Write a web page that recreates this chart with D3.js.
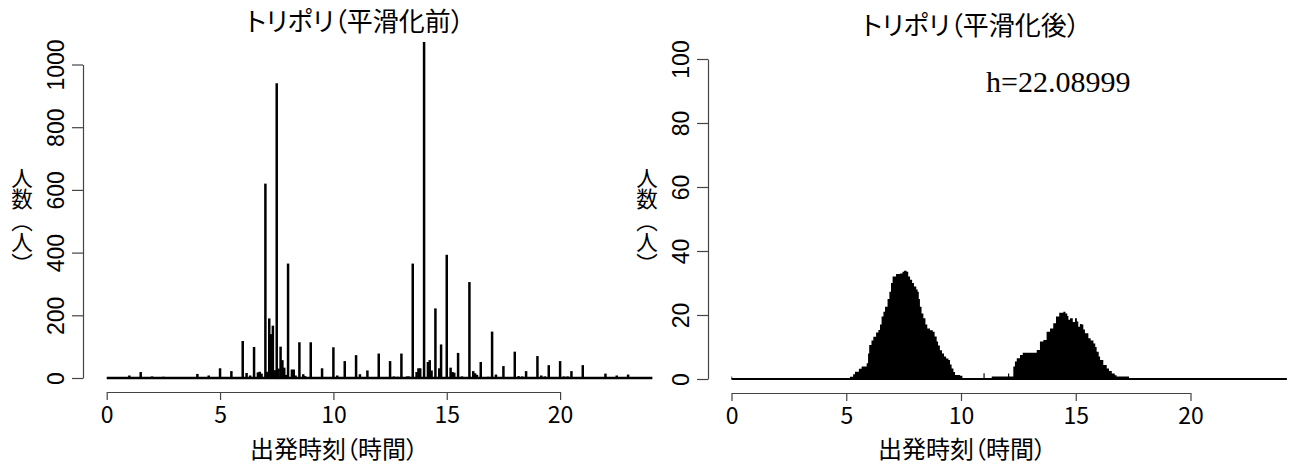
<!DOCTYPE html>
<html>
<head>
<meta charset="utf-8">
<script src="https://cdn.jsdelivr.net/npm/d3@7"></script>
<style>
  body { margin: 0; background: #fff; }
  svg { display: block; }
</style>
</head>
<body>
<div id="chart"></div>
<script>
// raw counts per departure time (hours, people) - before smoothing
const rawTimes = [1.0, 1.5, 2.0, 2.5, 3.0, 4.0, 4.5, 5.0, 5.5, 6.0, 6.17, 6.33, 6.5, 6.67, 6.75, 6.83,
  7.0, 7.08, 7.17, 7.25, 7.33, 7.42, 7.5, 7.58, 7.67, 7.75, 7.83, 7.92, 8.0, 8.17, 8.25, 8.33, 8.5,
  8.67, 8.75, 9.0, 9.17, 9.5, 10.0, 10.17, 10.5, 10.67, 11.0, 11.17, 11.5, 11.67, 12.0, 12.17, 12.5,
  12.67, 12.83, 13.0, 13.25, 13.33, 13.5, 13.67, 13.75, 13.83, 14.0, 14.17, 14.25, 14.33, 14.5, 14.67,
  14.75, 15.0, 15.17, 15.25, 15.33, 15.5, 15.67, 15.75, 16.0, 16.17, 16.25, 16.33, 16.5, 16.83, 17.0,
  17.17, 17.33, 17.5, 18.0, 18.17, 18.33, 18.5, 18.83, 19.0, 19.17, 19.33, 19.5, 19.67, 20.0, 20.17,
  20.33, 20.5, 21.0, 21.5, 22.0, 22.5, 23.0];
const rawCounts = [8, 19, 5, 4, 3, 13, 8, 31, 22, 118, 16, 8, 99, 18, 20, 14,
  620, 20, 190, 140, 167, 25, 940, 30, 100, 57, 33, 10, 365, 27, 27, 8, 114,
  12, 6, 114, 3, 31, 98, 8, 54, 3, 73, 12, 24, 3, 78, 3, 54,
  5, 4, 78, 5, 5, 365, 19, 31, 31, 1072, 51, 57, 24, 222, 31,
  107, 393, 33, 19, 17, 80, 5, 3, 306, 22, 15, 10, 51, 4, 148,
  11, 3, 38, 84, 6, 5, 22, 3, 70, 8, 5, 41, 3, 54, 5,
  5, 22, 41, 3, 14, 8, 11];
const rawEnd = 24.07;

// smoothed series (kernel, h = 22.08999)
const smoothTimes = [0, 0.03, 5.1, 5.16, 5.3, 5.38, 5.55, 5.67, 5.89, 5.95, 6.0, 6.1, 6.18, 6.3, 6.4, 6.47,
  6.54, 6.62, 6.69, 6.8, 6.88, 6.95, 7.02, 7.17, 7.34, 7.45, 7.52, 7.63, 7.7, 7.78, 7.87, 7.95, 8.05,
  8.11, 8.16, 8.21, 8.28, 8.36, 8.45, 8.53, 8.65, 8.77, 8.85, 8.94, 9.0, 9.08, 9.17, 9.26, 9.35, 9.45,
  9.52, 9.59, 9.67, 9.74, 9.96, 10.06, 10.95, 10.98, 11.03, 11.3, 11.34, 12.03, 12.05, 12.1, 12.2,
  12.28, 12.35, 12.43, 12.57, 12.69, 13.15, 13.3, 13.44, 13.59, 13.73, 13.88, 14.02, 14.14, 14.28,
  14.46, 14.55, 14.63, 14.68, 14.75, 14.82, 14.87, 14.97, 15.05, 15.11, 15.18, 15.26, 15.33, 15.4,
  15.55, 15.65, 15.77, 15.85, 15.91, 16.0, 16.06, 16.2, 16.35, 16.45, 16.57, 16.7, 16.78, 17.29,
  17.32, 24.2];
const smoothValues = [0.8, 0, 0, 0.7, 1.5, 2.3, 3.2, 3.9, 4.9, 8, 10.6, 12, 13.2, 14.5, 15.3, 17,
  19.5, 21, 22.6, 25, 27.3, 30, 32, 32.8, 33, 33.5, 33.8, 33.5, 32, 31, 30, 28.9, 28,
  27.3, 25, 22.6, 20.5, 19, 17, 15.8, 15.2, 14.8, 13.3, 11.7, 10.5, 9, 8, 7, 6.4, 5.9,
  4.5, 3.3, 2.2, 1.25, 1.0, 0, 0, 1.8, 0, 0, 0.8, 0.8, 1.7, 0.8, 0.8,
  3.9, 5.5, 6.5, 7.5, 8.2, 8.2, 9.1, 11.7, 12.2, 14.8, 15.8, 17.4, 19.5, 20.7,
  21, 20.5, 19.7, 18.5, 19, 19, 17.8, 19, 18, 16.3, 17.2, 17, 15.5, 14.3,
  12.7, 12, 11.1, 10, 8.5, 7, 5.9, 4.4, 3.3, 2.5, 1.7, 1.2, 0.8, 0.8,
  0, 0];

const xTicks = [0, 5, 10, 15, 20];
const leftYTicks = [0, 200, 400, 600, 800, 1000];
const rightYTicks = [0, 20, 40, 60, 80, 100];
const yLabel = "人数（人）";

const W = 1297, H = 468;
const svg = d3.select("#chart").append("svg")
    .attr("width", W)
    .attr("height", H);

const jpFont = "'Noto Sans CJK JP', 'Noto Sans', sans-serif";
const numFont = "'Liberation Sans', Arial, sans-serif";

function drawPanel(opts) {
    const x = d3.scaleLinear().domain([0, 20]).range(opts.xRange);
    const y = d3.scaleLinear().domain(opts.yDomain).range(opts.yRange);

    // y axis, labels rotated like R's default
    const yAxis = svg.append("g")
        .attr("transform", "translate(" + opts.yAxisX + ",0)")
        .call(d3.axisLeft(y).tickValues(opts.yTicks).tickFormat(d3.format("d"))
            .tickSize(11).tickSizeOuter(0));
    yAxis.selectAll("text")
        .attr("transform", "rotate(-90)")
        .attr("x", 0)
        .attr("y", -19)
        .attr("dy", 0)
        .attr("text-anchor", "middle")
        .style("font-family", numFont)
        .style("font-size", "23px")
        .attr("fill", "#000");

    // x axis
    const xAxis = svg.append("g")
        .attr("transform", "translate(0," + opts.xAxisY + ")")
        .call(d3.axisBottom(x).tickValues(xTicks).tickSize(8).tickSizeOuter(0));
    xAxis.selectAll("text")
        .attr("y", 31)
        .attr("dy", 0)
        .style("font-family", jpFont)
        .style("font-size", "23px")
        .attr("fill", "#000");

    svg.selectAll(".domain, .tick line")
        .attr("stroke", "#444")
        .attr("stroke-width", 1.2);

    // titles and labels
    svg.append("text")
        .attr("x", opts.titleX)
        .attr("y", opts.titleY)
        .attr("text-anchor", "middle")
        .style("font-family", jpFont)
        .style("font-size", "26px")
        .style("font-feature-settings", "'palt'")
        .text(opts.title);

    svg.append("text")
        .attr("x", opts.xLabelX)
        .attr("y", 458)
        .attr("text-anchor", "middle")
        .style("font-family", jpFont)
        .style("font-size", "24px")
        .style("font-feature-settings", "'palt'")
        .text("出発時刻（時間）");

    svg.append("text")
        .attr("x", opts.yLabelX)
        .attr("y", 167)
        .style("writing-mode", "vertical-rl")
        .style("text-orientation", "upright")
        .style("font-family", jpFont)
        .style("font-size", "21.5px")
        .text(yLabel);

    return { x, y };
}

// left: before smoothing
const L = drawPanel({
    xRange: [106.7, 560.1], yDomain: [0, 1000], yRange: [378, 64.5],
    yAxisX: 83, xAxisY: 392, yTicks: leftYTicks,
    title: "トリポリ（平滑化前）", titleX: 355, titleY: 31,
    xLabelX: 334, yLabelX: 22
});

svg.append("line")
    .attr("x1", L.x(0)).attr("x2", L.x(rawEnd))
    .attr("y1", L.y(0)).attr("y2", L.y(0))
    .attr("stroke", "#000").attr("stroke-width", 2.6);

svg.append("g").selectAll("line")
    .data(rawTimes)
    .join("line")
    .attr("x1", d => L.x(d)).attr("x2", d => L.x(d))
    .attr("y1", L.y(0))
    .attr("y2", (d, i) => L.y(rawCounts[i]))
    .attr("stroke", "#000")
    .attr("stroke-width", 2.5);

// right: after smoothing
const R = drawPanel({
    xRange: [731.5, 1190.5], yDomain: [0, 100], yRange: [379, 59],
    yAxisX: 708, xAxisY: 393, yTicks: rightYTicks,
    title: "トリポリ（平滑化後）", titleX: 971, titleY: 35,
    xLabelX: 962, yLabelX: 647
});

const smooth = smoothTimes.map((t, i) => [t, smoothValues[i]]);
svg.append("path")
    .datum(smooth)
    .attr("fill", "#000")
    .attr("d", d3.area()
        .x(d => R.x(d[0]))
        .y0(R.y(0))
        .y1(d => R.y(d[1]))
        .curve(d3.curveStepAfter));

svg.append("line")
    .attr("x1", R.x(0)).attr("x2", R.x(24.2))
    .attr("y1", R.y(0)).attr("y2", R.y(0))
    .attr("stroke", "#000").attr("stroke-width", 2);

svg.append("text")
    .attr("x", 986)
    .attr("y", 92)
    .style("font-family", "'Liberation Serif', 'Times New Roman', serif")
    .style("font-size", "30px")
    .text("h=22.08999");
</script>
</body>
</html>
